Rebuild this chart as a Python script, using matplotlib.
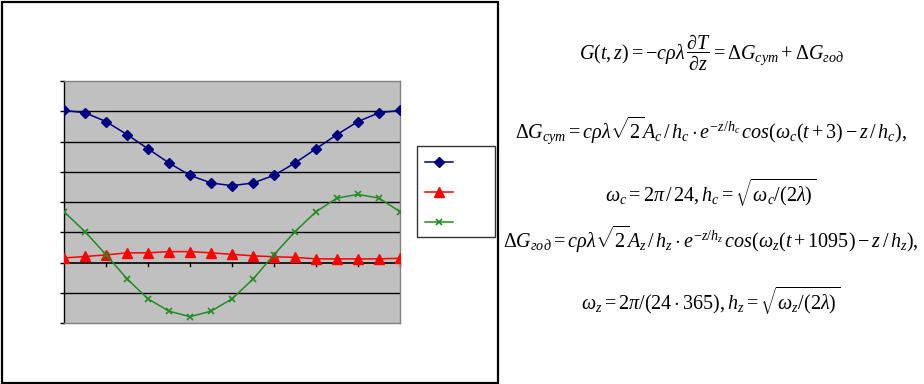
import matplotlib
matplotlib.use("Agg")
import matplotlib.pyplot as plt
from matplotlib.patches import Rectangle

plt.rcParams['mathtext.fontset'] = 'custom'
plt.rcParams['mathtext.rm'] = 'Liberation Serif'
plt.rcParams['mathtext.it'] = 'Liberation Serif:italic'
plt.rcParams['mathtext.bf'] = 'Liberation Serif:bold'

# data
t = list(range(17))
sinij = [5.03, 4.95, 4.66, 4.23, 3.76, 3.29, 2.88, 2.63, 2.54, 2.63, 2.88, 3.29, 3.76, 4.23, 4.66, 4.95, 5.03]
krasnyj = [0.15, 0.2, 0.25, 0.32, 0.32, 0.36, 0.36, 0.32, 0.27, 0.22, 0.19, 0.17, 0.12, 0.12, 0.12, 0.12, 0.14]
zelenyj = [1.68, 1.02, 0.26, -0.54, -1.2, -1.61, -1.79, -1.61, -1.2, -0.55, 0.26, 1.02, 1.68, 2.13, 2.25, 2.13, 1.68]
yticks = [-2, -1, 0, 1, 2, 3, 4, 5, 6]
xticks = [0, 2, 4, 6, 8, 10, 12, 14, 16]

W, H = 924, 384
fig = plt.figure(figsize=(W / 100, H / 100), dpi=100)
fig.patch.set_facecolor("white")

# рамка диаграммы
fig.patches.append(Rectangle((1.5 / W, 1 - 382.5 / H), 497 / W, 381 / H, transform=fig.transFigure,
                             fill=False, edgecolor="black", lw=1.6))

ax = fig.add_axes([64 / W, 1 - 323 / H, 336 / W, 242 / H])
ax.set_facecolor("#C0C0C0")
ax.set_xlim(0, 16)
ax.set_ylim(-2, 6)
for y in yticks:
    if y not in (-2, 0, 6):
        ax.axhline(y, color="black", lw=1, zorder=1)
ax.axhline(0, color="black", lw=1.2, zorder=1)

l1, = ax.plot(t, sinij, color="#000080", marker="D", markersize=5.5, lw=1.1, zorder=3)
l2, = ax.plot(t, krasnyj, color="#FF0000", marker="^", markersize=7, lw=1.1, zorder=3)
l3, = ax.plot(t, zelenyj, color="#228B22", marker="x", markersize=5, mew=1.2, lw=1.1, zorder=4)

ax.set_yticks(yticks)
ax.set_yticklabels([])
ax.tick_params(axis="y", direction="out", length=3, color="black", width=1)
# x ticks on the zero line
ax.set_xticks([])
for x in xticks[1:]:
    ax.plot([x, x], [0, -0.13], color="black", lw=1, zorder=2, clip_on=False)
for s in ax.spines.values():
    s.set_color("#808080")
    s.set_linewidth(1)
ax.spines["left"].set_color("black")

pusto = "\u2003\u2003"
leg = ax.legend([l1, l2, l3], [pusto, pusto, pusto], loc="upper left",
                bbox_to_anchor=(417 / W, 1 - 146 / H),
                bbox_transform=fig.transFigure, frameon=True, fancybox=False,
                fontsize=10, handlelength=2.0, handletextpad=0.4, borderpad=0.6,
                handleheight=0.05, labelspacing=1.15, borderaxespad=0)
leg.get_frame().set_edgecolor("black")
leg.get_frame().set_linewidth(1)

fs = 14.5
cx = 711 / W
fig.text(cx, 1 - 60 / H, r'$G(t,z) = -c\rho\lambda\,\dfrac{\partial T}{\partial z} = \Delta G_{\mathit{сут}} + \Delta G_{\mathit{год}}$',
         ha="center", va="baseline", fontsize=fs)
fig.text(cx, 1 - 138 / H, r'$\Delta G_{\mathit{сут}} = c\rho\lambda\sqrt{2}A_c\,/\,h_c\cdot e^{-z/h_c}\,\mathit{cos}(\omega_c(t+3)-z\,/\,h_c),$',
         ha="center", va="baseline", fontsize=fs)
fig.text(cx, 1 - 202 / H, r'$\omega_c = 2\pi\,/\,24, h_c = \sqrt{\omega_c/(2\lambda)}$',
         ha="center", va="baseline", fontsize=fs)
fig.text(cx, 1 - 248 / H, r'$\Delta G_{\mathit{год}} = c\rho\lambda\sqrt{2}A_z\,/\,h_z\cdot e^{-z/h_z}\,\mathit{cos}(\omega_z(t+1095)-z\,/\,h_z),$',
         ha="center", va="baseline", fontsize=fs)
fig.text(cx, 1 - 310 / H, r'$\omega_z = 2\pi/(24\cdot 365), h_z = \sqrt{\omega_z/(2\lambda)}$',
         ha="center", va="baseline", fontsize=fs)

fig.savefig("out.png", dpi=100)
